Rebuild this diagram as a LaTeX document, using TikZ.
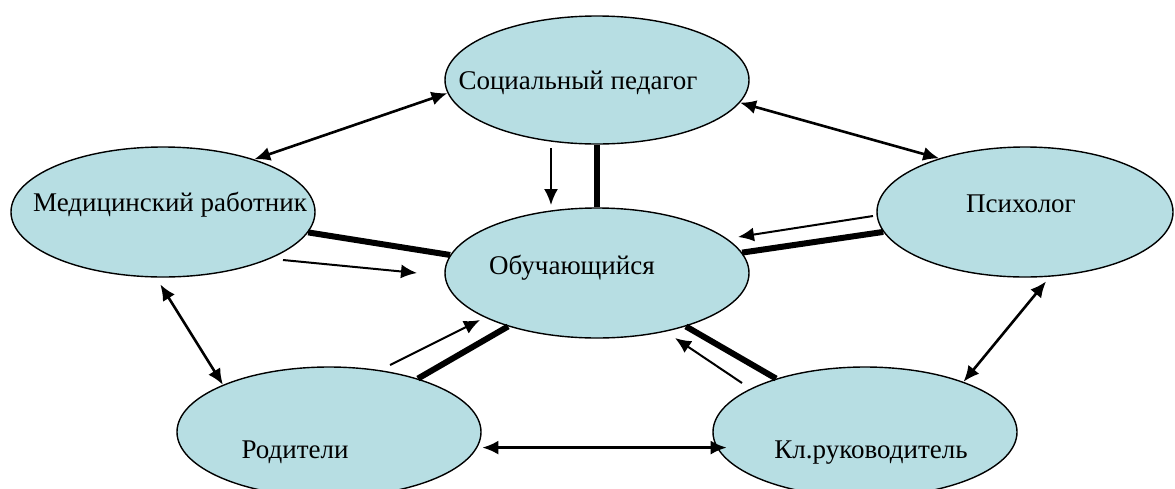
\documentclass[tikz,border=0pt]{standalone}
\usepackage{fontspec}
\setmainfont{Liberation Serif}
\usepackage{tikz}
\usetikzlibrary{shapes.geometric,positioning,calc}
\usetikzlibrary{arrows.meta}
\definecolor{lightteal}{RGB}{183,222,227}
\tikzstyle{oneway} = [line width=2pt,-{Latex[length=16pt,width=14pt]}]
\tikzstyle{twoway} = [line width=2.6pt,{Latex[length=16pt,width=14pt]}-{Latex[length=16pt,width=14pt]}]

\begin{document}
\begin{tikzpicture}[x=1pt,y=-1pt,
	role/.style={ellipse, draw, line width=1.4pt, fill=lightteal, inner sep=0pt, minimum width=#1, minimum height=130pt},
	caption/.style={font=\fontsize{27}{30}\selectfont, inner sep=0pt},
	bond/.style={line width=6pt}]
			
			\useasboundingbox (0,0) rectangle (1175,488);
			
			% ROLES
			
			\node [role=304pt, minimum height=128pt] (pedagog) at (597,80) {};
			\node [role=304pt] (medic) at (163,212) {};
			\node [role=296pt] (psych) at (1025,212) {};
			\node [role=304pt] (pupil) at (597,273) {};
			\node [role=304pt] (parents) at (329,432) {};
			\node [role=304pt] (teacher) at (865,432) {};
			
			\node [caption] (pedagogtext) at (578,83) {Социальный педагог};
			\node [caption] (medictext) at (170,205) {Медицинский работник};
			\node [caption] (psychtext) at (1021,204) {Психолог};
			\node [caption] (pupiltext) at (572,268) {Обучающийся};
			\node [caption] (parentstext) at (295,452) {Родители};
			\node [caption] (teachertext) at (871,453) {Кл.руководитель};
			
			% LINKS TO THE PUPIL
			
			\draw [bond] (pedagog.south) -- (pupil.north);
			\draw [bond] (medic.-8) -- (pupil.173);
			\draw [bond] (psych.188.5) -- (pupil.8);
			\draw [bond] (parents.31) -- (pupil.211);
			\draw [bond] (teacher.149) -- (pupil.-31);
			
			\coordinate (s1) at (551,148); \coordinate (s2) at (551,205);
			\coordinate (m1) at (283,260); \coordinate (m2) at (417,273);
			\coordinate (p1) at (873,216); \coordinate (p2) at (738,237);
			\coordinate (r1) at (390,365); \coordinate (r2) at (480,320);
			\coordinate (k1) at (742,383); \coordinate (k2) at (675,338);
			
			\draw [oneway] (s1) -- (s2);
			\draw [oneway] (m1) -- (m2);
			\draw [oneway] (p1) -- (p2);
			\draw [oneway] (r1) -- (r2);
			\draw [oneway] (k1) -- (k2);
			
			% LINKS AROUND
			
			\draw [twoway] (pedagog.185) -- (medic.30);
			\draw [twoway] (pedagog.-9) -- (psych.148.5);
			\draw [twoway, shorten <=8pt] (medic.-96) -- (parents.156);
			\draw [twoway, shorten <=6pt] (psych.-69) -- (teacher.27);
			\draw [twoway, shorten <=5pt, shorten >=-10pt] (parents.-6) -- (teacher.186);
			
			\end{tikzpicture}
\end{document}
